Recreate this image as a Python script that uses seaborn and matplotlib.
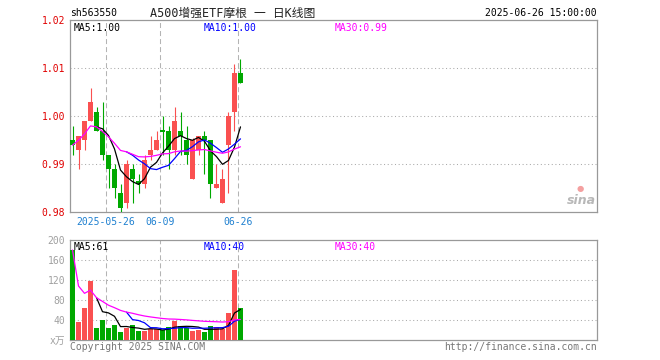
import numpy as np
import pandas as pd
import matplotlib
matplotlib.use("Agg")
import matplotlib.pyplot as plt
import seaborn as sns

# ---- data ----
dates = ["05-16", "05-19", "05-20", "05-21", "05-22", "05-23", "05-26", "05-27",
         "05-28", "05-29", "05-30", "06-03", "06-04", "06-05", "06-06", "06-09",
         "06-10", "06-11", "06-12", "06-13", "06-16", "06-17", "06-18", "06-19",
         "06-20", "06-23", "06-24", "06-25", "06-26"]
opens = [0.995, 0.993, 0.995, 0.999, 1.001, 0.997, 0.992, 0.989, 0.984, 0.982,
         0.989, 0.9865, 0.986, 0.992, 0.993, 0.997, 0.997, 0.993, 0.997, 0.995,
         0.987, 0.993, 0.996, 0.995, 0.985, 0.982, 0.994, 1.001, 1.009]
highs = [0.998, 0.996, 0.999, 1.006, 1.002, 1.003, 0.992, 0.990, 0.986, 0.991,
         0.990, 0.988, 0.992, 0.996, 0.997, 1.000, 0.998, 1.002, 1.001, 0.998,
         0.9955, 0.996, 0.997, 0.995, 0.990, 0.989, 1.001, 1.011, 1.012]
lows = [0.992, 0.989, 0.993, 0.999, 0.997, 0.991, 0.985, 0.983, 0.980, 0.981,
        0.982, 0.984, 0.985, 0.991, 0.993, 0.992, 0.989, 0.992, 0.992, 0.990,
        0.987, 0.992, 0.988, 0.983, 0.985, 0.982, 0.984, 0.997, 1.007]
closes = [0.994, 0.996, 0.999, 1.003, 0.997, 0.992, 0.989, 0.985, 0.981, 0.990,
          0.987, 0.986, 0.991, 0.993, 0.995, 0.9968, 0.993, 0.999, 0.996, 0.992,
          0.995, 0.996, 0.995, 0.986, 0.986, 0.987, 1.000, 1.009, 1.007]
volumes = [180, 36, 64, 119, 24, 40, 24, 30, 16, 25, 30, 18, 18, 22, 22, 20,
           26, 38, 28, 25, 18, 20, 16, 28, 26, 22, 54, 140, 64]

price_ticks = [0.98, 0.99, 1.00, 1.01, 1.02]
vol_ticks = [0, 40, 80, 120, 160, 200]
vol_tick_labels = ["x万", "40", "80", "120", "160", "200"]
date_marks = {"2025-05-26": 6, "06-09": 15, "06-26": 28}

code = "sh563550"
title = "A500增强ETF摩根 一 日K线图"
stamp = "2025-06-26 15:00:00"
price_legend = ["MA5:1.00", "MA10:1.00", "MA30:0.99"]
vol_legend = ["MA5:61", "MA10:40", "MA30:40"]

# ---- style ----
sns.set_style("white")
plt.rcParams['font.family'] = ['DejaVu Sans Mono', 'Noto Sans CJK SC']

RED = "#fa5050"
GREEN = "#00a800"
GRID = "#aaaaaa"
FRAME = "#999999"

df = pd.DataFrame({"date": dates, "open": opens, "high": highs, "low": lows,
                   "close": closes, "vol": volumes})
df["idx"] = np.arange(len(df))
df["ma5"] = df["close"].rolling(5).mean()
df["ma10"] = df["close"].rolling(10).mean()
df["ma30"] = df["close"].rolling(30, min_periods=1).mean()
df["vma5"] = df["vol"].rolling(5).mean()
df["vma10"] = df["vol"].rolling(10).mean()
df["vma30"] = df["vol"].rolling(30, min_periods=1).mean()
up = df["close"] >= df["open"]
cols = np.where(up, RED, GREEN)

W, H = 660, 360
fig = plt.figure(figsize=(W / 100, H / 100), dpi=100)


def px_axes(l, t, r, b):
    return fig.add_axes([l / W, 1 - b / H, (r - l) / W, (b - t) / H])


ax = px_axes(70, 20.3, 597, 212.3)
axv = px_axes(70, 240, 597, 340)

pitch = 6.0
xmin = -2.5 / pitch
xmax = (597 - 72.5) / pitch
mark_x = [i - 2.5 / pitch for i in date_marks.values()]

# ---- candles ----
ax.vlines(df["idx"], df["low"], df["high"], colors=cols, lw=0.8, zorder=3)
body = np.maximum((df["close"] - df["open"]).abs(), 0.00025)
ax.bar(df["idx"], body, bottom=np.minimum(df["open"], df["close"]),
       width=5 / pitch, color=cols, zorder=4, linewidth=0)

for col, c in [("ma5", "black"), ("ma10", "#0000ff"), ("ma30", "#ff00ff")]:
    sns.lineplot(data=df, x="idx", y=col, ax=ax, color=c, lw=0.9, zorder=5)

for y in price_ticks[1:-1]:
    ax.axhline(y, color=GRID, ls=(0, (1, 2.5)), lw=0.75, zorder=1)
for x in mark_x:
    ax.axvline(x, color="#b4b4b4", ls=(0, (4.8, 2.9)), lw=0.75, zorder=1)

ax.set_xlim(xmin, xmax)
ax.set_ylim(0.98, 1.02)
ax.set_yticks(price_ticks)
ax.set_yticklabels([f"{v:.2f}" for v in price_ticks], color="#e00000", fontsize=7)
ax.set_xticks(mark_x)
ax.set_xticklabels(list(date_marks.keys()), color="#1f80d0", fontsize=7)
ax.tick_params(axis="both", length=0)
ax.tick_params(axis="y", pad=3.5)
ax.tick_params(axis="x", pad=3.5)
ax.set_xlabel("")
ax.set_ylabel("")

# ---- volume ----
axv.bar(df["idx"], df["vol"], width=5 / pitch, color=cols, zorder=3, linewidth=0)
for col, c in [("vma5", "black"), ("vma10", "#0000ff"), ("vma30", "#ff00ff")]:
    sns.lineplot(data=df, x="idx", y=col, ax=axv, color=c, lw=0.9, zorder=5)
for y in vol_ticks[1:-1]:
    axv.axhline(y, color=GRID, ls=(0, (1, 2.5)), lw=0.75, zorder=1)
for x in mark_x:
    axv.axvline(x, color="#b4b4b4", ls=(0, (4.8, 2.9)), lw=0.75, zorder=1)
axv.set_xlim(xmin, xmax)
axv.set_ylim(0, 200)
axv.set_yticks(vol_ticks)
axv.set_yticklabels(vol_tick_labels, color="#a0a0a0", fontsize=7)
axv.set_xticks([])
axv.tick_params(axis="both", length=0)
axv.tick_params(axis="y", pad=3.5)
axv.set_xlabel("")
axv.set_ylabel("")

for a in (ax, axv):
    for s in a.spines.values():
        s.set_color(FRAME)
        s.set_linewidth(0.9)
    if a.get_legend():
        a.get_legend().remove()

# ---- texts ----
def ftext(x, y, s, **kw):
    fig.text(x / W, 1 - y / H, s, va="center", **kw)


ftext(70, 13, code, ha="left", fontsize=7, color="black")
ftext(150, 13, title, ha="left", fontsize=8.5, color="#222222")
ftext(597, 13, stamp, ha="right", fontsize=7, color="black")

leg_colors = ["black", "#0000ff", "#ff00ff"]
leg_x = [74, 204, 335]
for s, c, x in zip(price_legend, leg_colors, leg_x):
    ftext(x, 28, s, ha="left", fontsize=7, color=c)
for s, c, x in zip(vol_legend, leg_colors, leg_x):
    ftext(x, 246.5, s, ha="left", fontsize=7, color=c)

ftext(70, 346.5, "Copyright 2025 SINA.COM", ha="left", fontsize=7, color="#777777")
ftext(597, 346.5, "http://finance.sina.com.cn", ha="right", fontsize=7, color="#777777")

# sina watermark
ftext(581, 200, "sina", ha="center", fontsize=9, color="#b8b8b8",
      style="italic", weight="bold", family="DejaVu Sans")
ftext(580, 189, "●", ha="center", fontsize=6, color="#f4a0a0", family="DejaVu Sans")

fig.savefig("out.png", dpi=100)
